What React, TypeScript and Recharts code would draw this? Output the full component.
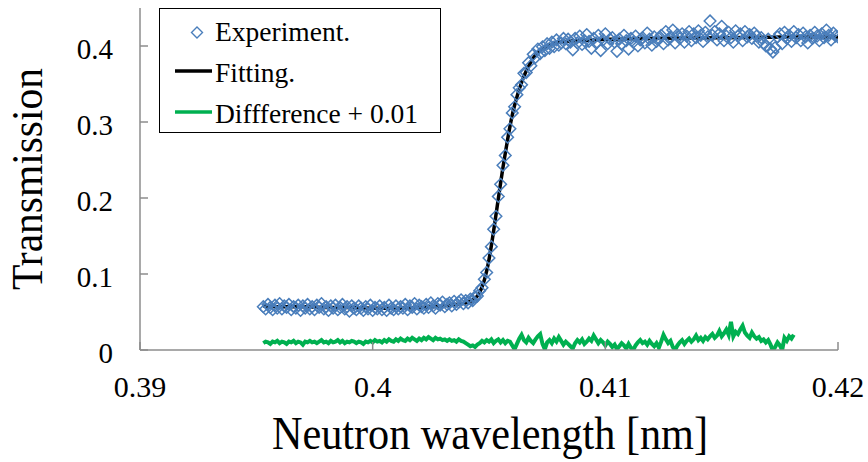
import React from "react";
import {
  ComposedChart,
  Scatter,
  Line,
  XAxis,
  YAxis,
  Legend,
  Label,
} from "recharts";

// wavelength grid of the measurement (nm)
const LAMBDA_START = 0.3953;
const LAMBDA_STEP = 0.0001;

const xTicks = [0.39, 0.4, 0.41, 0.42];
const yTicks = [0, 0.1, 0.2, 0.3, 0.4];

// measured transmission, one value per wavelength step
const experiment = [
  0.057, 0.054, 0.060, 0.056, 0.053, 0.059, 0.055, 0.061, 0.054, 0.058,
  0.056, 0.060, 0.053, 0.057, 0.055, 0.059, 0.052, 0.058, 0.055, 0.060,
  0.054, 0.057, 0.053, 0.059, 0.056, 0.061, 0.054, 0.057, 0.052, 0.058,
  0.055, 0.059, 0.053, 0.056, 0.060, 0.054, 0.057, 0.051, 0.058, 0.055,
  0.053, 0.058, 0.055, 0.052, 0.057, 0.054, 0.059, 0.052, 0.056, 0.054,
  0.058, 0.053, 0.056, 0.052, 0.059, 0.055, 0.053, 0.058, 0.054, 0.057,
  0.055, 0.060, 0.053, 0.058, 0.056, 0.061, 0.054, 0.059, 0.057, 0.055,
  0.060, 0.056, 0.062, 0.058, 0.055, 0.061, 0.059, 0.063, 0.057, 0.060,
  0.062, 0.058, 0.064, 0.060, 0.063, 0.066, 0.061, 0.065, 0.062, 0.067,
  0.065, 0.070, 0.071, 0.078, 0.082, 0.093, 0.102, 0.121, 0.136, 0.159,
  0.176, 0.202, 0.218, 0.243, 0.256, 0.280, 0.291, 0.312, 0.320, 0.336,
  0.345, 0.349, 0.364, 0.365, 0.378, 0.374, 0.389, 0.385, 0.396, 0.390,
  0.399, 0.394, 0.403, 0.397, 0.405, 0.399, 0.408, 0.401, 0.404, 0.410,
  0.403, 0.409, 0.405, 0.395, 0.410, 0.404, 0.413, 0.402, 0.407, 0.415,
  0.406, 0.397, 0.410, 0.404, 0.414, 0.394, 0.408, 0.416, 0.403, 0.409,
  0.411, 0.405, 0.393, 0.409, 0.403, 0.414, 0.407, 0.396, 0.410, 0.405,
  0.413, 0.400, 0.408, 0.411, 0.404, 0.417, 0.409, 0.401, 0.412, 0.406,
  0.410, 0.414, 0.403, 0.419, 0.408, 0.412, 0.421, 0.404, 0.415, 0.410,
  0.416, 0.405, 0.413, 0.419, 0.407, 0.416, 0.411, 0.420, 0.414, 0.406,
  0.418, 0.412, 0.433, 0.414, 0.419, 0.408, 0.416, 0.426, 0.407, 0.413,
  0.418, 0.411, 0.405, 0.420, 0.413, 0.416, 0.407, 0.419, 0.412, 0.415,
  0.410, 0.417, 0.413, 0.405, 0.411, 0.404, 0.400, 0.409, 0.396, 0.392,
  0.398, 0.412, 0.416, 0.403, 0.418, 0.410, 0.414, 0.406, 0.419, 0.411,
  0.415, 0.407, 0.417, 0.412, 0.404, 0.414, 0.410, 0.418, 0.413, 0.407,
  0.416, 0.411, 0.421, 0.414, 0.408, 0.417, 0.413, 0.412,
];

// residual + 0.01 offset, same grid, ends earlier
const difference = [
  0.009, 0.011, 0.010, 0.008, 0.011, 0.010, 0.012, 0.009, 0.011, 0.010,
  0.008, 0.011, 0.010, 0.012, 0.009, 0.011, 0.010, 0.007, 0.011, 0.010,
  0.012, 0.010, 0.011, 0.009, 0.011, 0.013, 0.010, 0.011, 0.009, 0.012,
  0.010, 0.011, 0.013, 0.010, 0.012, 0.009, 0.011, 0.010, 0.012, 0.011,
  0.009, 0.011, 0.010, 0.008, 0.011, 0.010, 0.012, 0.010, 0.013, 0.011,
  0.012, 0.010, 0.013, 0.011, 0.014, 0.012, 0.011, 0.014, 0.012, 0.015,
  0.013, 0.012, 0.015, 0.013, 0.016, 0.014, 0.012, 0.015, 0.013, 0.016,
  0.014, 0.017, 0.015, 0.013, 0.016, 0.014, 0.015, 0.013, 0.014, 0.012,
  0.014, 0.012, 0.013, 0.011, 0.014, 0.012, 0.011, 0.009, 0.007, 0.005,
  0.006, 0.004, 0.007, 0.009, 0.012, 0.010, 0.013, 0.011, 0.014, 0.009,
  0.012, 0.014, 0.010, 0.013, 0.009, 0.012, 0.011, 0.006, 0.001, 0.008,
  0.015, 0.020, 0.013, 0.010, 0.016, 0.012, 0.009, 0.014, 0.018, 0.021,
  0.008, 0.001, 0.010, 0.013, 0.009, 0.015, 0.011, 0.017, 0.012, 0.007,
  0.011, 0.008, 0.005, 0.002, 0.009, 0.013, 0.010, 0.014, 0.008, 0.011,
  0.015, 0.012, 0.019, 0.014, 0.009, 0.013, 0.010, 0.006, 0.011, 0.008,
  0.004, 0.007, 0.001, 0.005, 0.009, 0.006, 0.002, 0.008, 0.003, 0.000,
  0.006, 0.010, 0.013, 0.009, 0.011, 0.007, 0.012, 0.008, 0.005, 0.009,
  0.003, 0.011, 0.020, 0.014, 0.009, 0.012, 0.004, 0.000, 0.006, 0.010,
  0.013, 0.008, 0.012, 0.015, 0.011, 0.014, 0.019, 0.013, 0.016, 0.012,
  0.017, 0.014, 0.018, 0.021, 0.016, 0.019, 0.025, 0.018, 0.022, 0.027,
  0.020, 0.037, 0.018, 0.024, 0.021, 0.027, 0.032, 0.023, 0.019, 0.016,
  0.023, 0.018, 0.015, 0.017, 0.012, 0.014, 0.010, 0.013, 0.007, -0.001,
  0.004, 0.010, 0.006, 0.000, 0.016, 0.012, 0.018, 0.015, 0.020,
];

// fitted curve, sampled denser across the edge
const fitWavelength = [
  0.3953, 0.396, 0.397, 0.398, 0.399, 0.4, 0.401, 0.402, 0.403, 0.4036,
  0.404, 0.4042, 0.4044, 0.4045, 0.4046, 0.4047, 0.4048, 0.4049, 0.405, 0.4051,
  0.4052, 0.4053, 0.4054, 0.4055, 0.4056, 0.4057, 0.4058, 0.4059, 0.406, 0.4061,
  0.4062, 0.4063, 0.4064, 0.4065, 0.4066, 0.4067, 0.4068, 0.4069, 0.407, 0.4071,
  0.4072, 0.4073, 0.4074, 0.4075, 0.4076, 0.4078, 0.408, 0.4083, 0.4088, 0.4095,
  0.41, 0.411, 0.412, 0.4135, 0.415, 0.417, 0.4185, 0.42,
];
const fitValues = [
  0.058, 0.057, 0.057, 0.056, 0.056, 0.055, 0.055, 0.056, 0.058, 0.060,
  0.062, 0.064, 0.068, 0.071, 0.076, 0.083, 0.092, 0.104, 0.119, 0.137,
  0.157, 0.178, 0.199, 0.220, 0.240, 0.259, 0.277, 0.294, 0.309, 0.322,
  0.333, 0.343, 0.352, 0.360, 0.367, 0.373, 0.379, 0.384, 0.388, 0.391,
  0.394, 0.396, 0.398, 0.400, 0.401, 0.403, 0.405, 0.406, 0.407, 0.408,
  0.409, 0.4095, 0.410, 0.4105, 0.411, 0.4115, 0.412, 0.412,
];

const FONT = "'Liberation Serif', 'Times New Roman', serif";
const AXIS_GREY = "#8c8c8c";
const BLUE = "#4a7ebb";
const GREEN = "#00b050";

const gridX = (i: number) => +(LAMBDA_START + i * LAMBDA_STEP).toFixed(4);

const expData = experiment.map((v, i) => ({ x: gridX(i), y: v }));
const diffData = difference.map((v, i) => ({ x: gridX(i), y: v }));
const fitData = fitWavelength.map((x, i) => ({ x, y: fitValues[i] }));

const Diamond = (props: any) => {
  const { cx, cy } = props;
  if (cx == null || cy == null) return null;
  const r = 5.8;
  return (
    <polygon
      points={`${cx},${cy - r} ${cx + r},${cy} ${cx},${cy + r} ${cx - r},${cy}`}
      fill="none"
      stroke={BLUE}
      strokeWidth={1.5}
    />
  );
};

const XTick = (props: any) => {
  const { x, y, payload } = props;
  return (
    <g>
      <line x1={x} x2={x} y1={y} y2={y - 8} stroke={AXIS_GREY} strokeWidth={1.5} />
      <text x={x} y={y + 47} textAnchor="middle" fontSize={30} fontFamily={FONT} fill="#000">
        {payload.value}
      </text>
    </g>
  );
};

const YTick = (props: any) => {
  const { x, y, payload } = props;
  return (
    <g>
      <line x1={x} x2={x + 8} y1={y} y2={y} stroke={AXIS_GREY} strokeWidth={1.5} />
      <text x={x - 27} y={y + 13} textAnchor="end" fontSize={29} fontFamily={FONT} fill="#000">
        {payload.value}
      </text>
    </g>
  );
};

const renderLegend = () => (
  <div
    style={{
      width: 282,
      height: 125,
      border: "1.5px solid #000",
      boxSizing: "border-box",
      background: "#fff",
    }}
  >
    <svg width={280} height={122} style={{ display: "block" }}>
      <polygon points="37,18 42.5,23.5 37,29 31.5,23.5" fill="none" stroke={BLUE} strokeWidth={1.4} />
      <text x={55} y={32} fontSize={27.5} fontFamily={FONT} fill="#000">Experiment.</text>
      <line x1={15} x2={52} y1={62} y2={62} stroke="#000" strokeWidth={3.5} />
      <text x={55} y={73} fontSize={27.5} fontFamily={FONT} fill="#000">Fitting.</text>
      <line x1={15} x2={52} y1={103} y2={103} stroke={GREEN} strokeWidth={3.5} />
      <text x={55} y={114} fontSize={27.5} fontFamily={FONT} fill="#000">Diffference + 0.01</text>
    </svg>
  </div>
);

export default function App() {
  return (
    <div style={{ position: "absolute", left: 0, top: 0, width: 868, height: 462, background: "#fff" }}>
      <ComposedChart width={868} height={462} margin={{ top: 8, right: 30, left: 0, bottom: 0 }}>
        <XAxis
          type="number"
          dataKey="x"
          domain={[0.39, 0.42]}
          ticks={xTicks}
          allowDataOverflow
          height={112}
          stroke={AXIS_GREY}
          strokeWidth={1.5}
          tickLine={false}
          tickSize={0}
          tickMargin={0}
          tick={<XTick />}
        >
          <Label
            content={() => (
              <text
                x={490}
                y={449}
                textAnchor="middle"
                fontSize={46}
                fontFamily={FONT}
                textLength={436}
                lengthAdjust="spacingAndGlyphs"
                fill="#000"
              >
                Neutron wavelength [nm]
              </text>
            )}
          />
        </XAxis>
        <YAxis
          type="number"
          domain={[0, 0.45]}
          ticks={yTicks}
          allowDataOverflow
          width={140}
          stroke={AXIS_GREY}
          strokeWidth={1.5}
          tickLine={false}
          tickSize={0}
          tickMargin={0}
          tick={<YTick />}
        >
          <Label
            content={() => (
              <text
                x={42}
                y={179}
                transform="rotate(-90 42 179)"
                textAnchor="middle"
                fontSize={44}
                fontFamily={FONT}
                textLength={222}
                lengthAdjust="spacingAndGlyphs"
                fill="#000"
              >
                Transmission
              </text>
            )}
          />
        </YAxis>
        <Legend
          content={renderLegend}
          layout="horizontal"
          verticalAlign="middle"
          align="center"
          wrapperStyle={{ left: 159, top: 8, width: 282, height: 125 }}
        />
        <Line
          data={fitData}
          dataKey="y"
          type="monotone"
          stroke="#000"
          strokeWidth={3.5}
          dot={false}
          isAnimationActive={false}
        />
        <Scatter data={expData} dataKey="y" shape={Diamond} isAnimationActive={false} />
        <Line
          data={diffData}
          dataKey="y"
          type="linear"
          stroke={GREEN}
          strokeWidth={4}
          dot={false}
          isAnimationActive={false}
        />
      </ComposedChart>
    </div>
  );
}
